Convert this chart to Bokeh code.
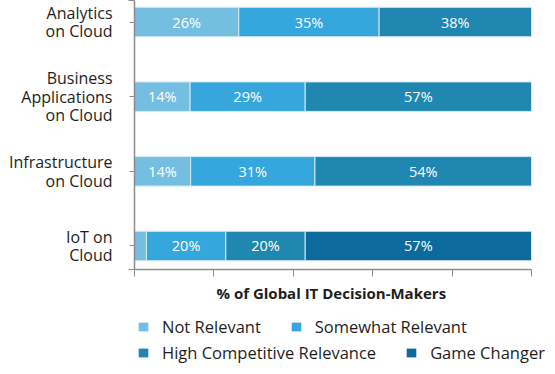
from bokeh.plotting import figure
from bokeh.layouts import column
from bokeh.models import (Range1d, FixedTicker, CustomJSTickFormatter, Legend,
                          LegendItem, ColumnDataSource, Title)
from bokeh.core.properties import value
from bokeh.embed import file_html
from bokeh.resources import INLINE

# ---- data ----
categories = ["Analytics\non Cloud", "Business\nApplications\non Cloud",
              "Infrastructure\non Cloud", "IoT on\nCloud"]
series = ["Not Relevant", "Somewhat Relevant", "High Competitive Relevance", "Game Changer"]
not_relevant = [26, 14, 14, 3]
somewhat_relevant = [35, 29, 31, 20]
high_competitive = [38, 57, 54, 20]
game_changer = [0, 0, 0, 57]
colors = ["#74bfe1", "#35a7dd", "#2087b1", "#0c6a9c"]
x_ticks = [0, 20, 40, 60, 80, 100]
x_title = "% of Global IT Decision-Makers"

FONT = "Open Sans"
TXT = "#1e1e1e"

rows = list(zip(not_relevant, somewhat_relevant, high_competitive, game_changer))
n = len(categories)
ypos = [n - 1 - i for i in range(n)]

# 100% stacked shares
data = {"y": ypos}
shares = []
for r in rows:
    tot = sum(r)
    shares.append([v / tot * 100 for v in r])
for k, name in enumerate(series):
    data[name] = [s[k] for s in shares]
source = ColumnDataSource(data)

# label positions
lx, ly, lt = [], [], []
for i, (r, s) in enumerate(zip(rows, shares)):
    cum = 0
    for v, sh in zip(r, s):
        if v >= 5:
            lx.append(cum + sh / 2)
            ly.append(ypos[i])
            lt.append(f"{v}%")
        cum += sh
lsrc = ColumnDataSource(dict(x=lx, y=ly, text=lt))

# frame is 413px wide; the 0-100 scale occupies the first 397px
FRAME_W = 413
X_END = 100 * FRAME_W / 397

p = figure(frame_width=FRAME_W, frame_height=269,
           min_border_left=134, min_border_right=0, min_border_top=0, min_border_bottom=42,
           x_range=Range1d(0, X_END), y_range=Range1d(-0.315, 3.288),
           output_backend="svg", toolbar_location=None)
p.outline_line_color = None
p.grid.visible = False

p.hbar_stack(series, y="y", height=0.395, color=colors, source=source,
             line_color="#d4ebf7", line_width=1)

p.text(x="x", y="y", text="text", source=lsrc, text_color="white",
       text_font=value(FONT), text_font_size="14.5px", text_align="center",
       text_baseline="middle")

axis_col = "#8c8c8c"
# y axis
ya = p.yaxis[0]
ya.ticker = FixedTicker(ticks=ypos, minor_ticks=[-0.314, 3.287])
ya.major_label_overrides = {y: c for y, c in zip(ypos, categories)}
ya.major_label_text_font = FONT
ya.major_label_text_font_size = "16px"
ya.major_label_text_color = TXT
ya.major_label_text_line_height = 0.85
ya.major_label_standoff = 16
ya.major_tick_out = 5
ya.major_tick_in = 0
ya.minor_tick_out = 6
ya.minor_tick_in = 0
ya.axis_line_color = axis_col
ya.major_tick_line_color = axis_col
ya.minor_tick_line_color = axis_col
ya.axis_line_width = 1.5

# x axis
xa = p.xaxis[0]
xa.bounds = (0, 100)
xa.ticker = FixedTicker(ticks=x_ticks)
xa.formatter = CustomJSTickFormatter(code="return ''")
xa.major_tick_out = 7
xa.major_tick_in = 0
xa.minor_tick_line_color = None
xa.major_label_standoff = 0
xa.axis_line_color = axis_col
xa.major_tick_line_color = axis_col
xa.axis_line_width = 1.5

# x-axis title, centred under the 0-100 scale
xt = Title(text=x_title, align="left", offset=82, standoff=8,
           text_font=FONT, text_font_size="15px", text_font_style="bold",
           text_color=TXT)
p.add_layout(xt, "below")

# ---- legend strip (separate figure below the chart) ----
lg = figure(width=547, height=60, min_border=0,
            x_range=Range1d(0, 100), y_range=Range1d(10, 11),
            x_axis_location=None, y_axis_location=None,
            output_backend="svg", toolbar_location=None)
lg.outline_line_color = None
lg.grid.visible = False
# same series, kept outside the visible range: only their legend swatches show
proxies = lg.hbar_stack(series, y="y", height=0.4, color=colors, source=source,
                        line_color=None)

def make_legend(idx, loc):
    leg = Legend(items=[LegendItem(label=series[k], renderers=[proxies[k]]) for k in idx],
                 orientation="horizontal", location=loc)
    leg.label_text_font = FONT
    leg.label_text_font_size = "16.5px"
    leg.label_text_color = TXT
    leg.glyph_width = 12
    leg.glyph_height = 11
    leg.label_standoff = 13
    leg.label_height = 20
    leg.spacing = 29
    leg.padding = 0
    leg.margin = 0
    leg.border_line_color = None
    leg.background_fill_alpha = 0
    return leg

lg.add_layout(make_legend([0, 1], (3, 33)))
lg.add_layout(make_legend([2, 3], (3, 7)))

layout = column(p, lg, spacing=0)
open("out.html", "w").write(file_html(layout, INLINE))
